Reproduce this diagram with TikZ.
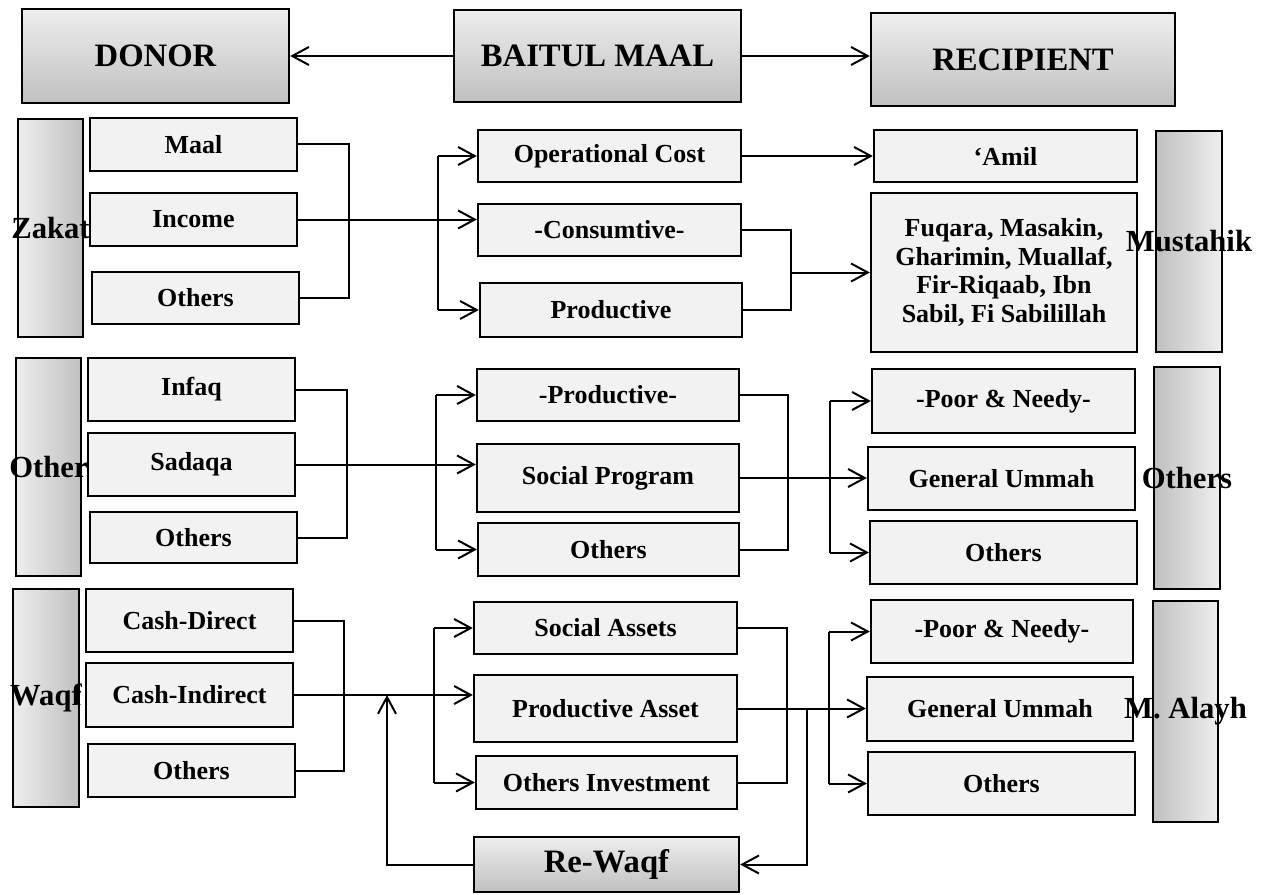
\documentclass[tikz,border=0pt]{standalone}
\usepackage{fontspec}
\setmainfont{Liberation Serif}
\usetikzlibrary{arrows.meta}
\definecolor{boxfill}{HTML}{F2F2F2}
\definecolor{gLight}{HTML}{EEEEEE}
\definecolor{gDark}{HTML}{C0C0C0}
\newcommand{\bx}[7]{%
  \pgfmathsetmacro\bxw{(#5-#3)*0.75}%
  \pgfmathsetmacro\bxh{(#6-#4)*0.75}%
  \node[#1, minimum width=\bxw pt, minimum height=\bxh pt] (#2) at ({(#3+#5)/2},{(#4+#6)/2}) {#7};}
\begin{document}
\begin{tikzpicture}[x=0.75pt, y=-0.75pt,
 box/.style={draw, line width=1.7pt, fill=boxfill, inner sep=0pt, align=center, font=\bfseries\fontsize{19.5}{21.5}\selectfont},
 head/.style={draw, line width=1.7pt, top color=gLight, bottom color=gDark, inner sep=0pt, font=\bfseries\fontsize{24.5}{27}\selectfont},
 barL/.style={draw, line width=1.7pt, left color=gLight, right color=gDark, inner sep=0pt},
 barR/.style={draw, line width=1.7pt, left color=gDark, right color=gLight, inner sep=0pt},
 lbl/.style={inner sep=0pt, font=\bfseries\fontsize{23}{26}\selectfont},
 ln/.style={line width=1.5pt},
 arr/.style={line width=1.5pt, -{Straight Barb[length=12.5pt, width=13.5pt, line width=1.5pt]}},
]
\useasboundingbox (0,0) rectangle (1267,895);

% headers
\bx{head}{donor}{22}{9}{289}{103}{DONOR}
\bx{head}{baitul}{454}{10}{741}{102}{BAITUL MAAL}
\bx{head}{recip}{871}{13}{1175}{106}{RECIPIENT}
\draw[arr] (baitul.west) -- (baitul.west -| donor.east);
\draw[arr] (baitul.east) -- (baitul.east -| recip.west);

% side bars
\bx{barL}{zakbar}{18}{119}{83}{337}{}
\bx{barL}{othbar}{16}{358}{81}{576}{}
\bx{barL}{waqfbar}{13}{589}{79}{807}{}
\bx{barR}{musbar}{1156}{131}{1222}{352}{}
\bx{barR}{othsbar}{1154}{367}{1220}{589}{}
\bx{barR}{alayhbar}{1153}{601}{1218}{822}{}

% row 1
\bx{box}{maal}{90}{118}{297}{171}{Maal}
\bx{box}{income}{90}{193}{297}{246}{Income}
\bx{box}{othA}{92}{272}{299}{324}{Others}
\bx{box}{opc}{478}{130}{741}{182}{Operational Cost}
\bx{box}{cons}{478}{204}{741}{256}{-Consumtive-}
\bx{box}{prod}{480}{283}{742}{337}{Productive}
\bx{box}{amil}{874}{130}{1137}{182}{`Amil}
\bx{box}{fuq}{871}{193}{1137}{352}{Fuqara, Masakin,\\Gharimin, Muallaf,\\Fir-Riqaab, Ibn\\Sabil, Fi Sabilillah}

\coordinate (zb) at (349,0);
\coordinate (zs) at (438,0);
\coordinate (zr) at (791,0);
\draw[ln] (maal.east) -- (maal.east -| zb) -- (othA.east -| zb) -- (othA.east);
\draw[arr] (income.east) -- (income.east -| cons.west);
\draw[ln] (zs |- opc.west) -- (zs |- prod.west);
\draw[arr] (zs |- opc.west) -- (opc.west);
\draw[arr] (zs |- prod.west) -- (prod.west);
\draw[arr] (opc.east) -- (opc.east -| amil.west);
\draw[ln] (cons.east) -- (cons.east -| zr) -- (prod.east -| zr) -- (prod.east);
\draw[arr] (zr |- fuq.west) -- (fuq.west);

% row 2
\bx{box}{infaq}{88}{358}{295}{421}{Infaq}
\bx{box}{sadaqa}{88}{433}{295}{496}{Sadaqa}
\bx{box}{othB}{90}{512}{297}{563}{Others}
\bx{box}{prodv}{477}{369}{739}{421}{-Productive-}
\bx{box}{socp}{477}{444}{739}{512}{Social Program}
\bx{box}{othC}{478}{523}{739}{576}{Others}
\bx{box}{poorA}{872}{369}{1135}{433}{-Poor \& Needy-}
\bx{box}{genA}{868}{447}{1135}{510}{General Ummah}
\bx{box}{othD}{870}{521}{1137}{584}{Others}

\coordinate (ob) at (347,0);
\coordinate (os) at (436,0);
\coordinate (orr) at (788,0);
\coordinate (ors) at (830,0);
\draw[ln] (infaq.east) -- (infaq.east -| ob) -- (othB.east -| ob) -- (othB.east);
\draw[arr] (sadaqa.east) -- (sadaqa.east -| socp.west);
\draw[ln] (os |- prodv.west) -- (os |- othC.west);
\draw[arr] (os |- prodv.west) -- (prodv.west);
\draw[arr] (os |- othC.west) -- (othC.west);
\draw[ln] (prodv.east) -- (prodv.east -| orr) -- (othC.east -| orr) -- (othC.east);
\draw[arr] (socp.east) -- (socp.east -| genA.west);
\draw[ln] (ors |- poorA.west) -- (ors |- othD.west);
\draw[arr] (ors |- poorA.west) -- (poorA.west);
\draw[arr] (ors |- othD.west) -- (othD.west);

% row 3
\bx{box}{cd}{86}{589}{293}{652}{Cash-Direct}
\bx{box}{ci}{86}{663}{293}{727}{Cash-Indirect}
\bx{box}{othE}{88}{744}{295}{797}{Others}
\bx{box}{sa}{474}{602}{737}{654}{Social Assets}
\bx{box}{pa}{474}{675}{737}{742}{Productive Asset}
\bx{box}{oi}{476}{756}{737}{809}{Others Investment}
\bx{box}{poorB}{871}{600}{1133}{663}{-Poor \& Needy-}
\bx{box}{genB}{867}{677}{1133}{741}{General Ummah}
\bx{box}{othF}{868}{752}{1135}{815}{Others}
\bx{head}{rewaqf}{474}{837}{739}{892}{Re-Waqf}

\coordinate (wb) at (344,0);
\coordinate (ws) at (434,0);
\coordinate (wr) at (787,0);
\coordinate (wrs) at (829,0);
\coordinate (wrb) at (807,0);
\coordinate (wret) at (387,0);
\draw[ln] (cd.east) -- (cd.east -| wb) -- (othE.east -| wb) -- (othE.east);
\draw[arr] (ci.east) -- (ci.east -| pa.west);
\draw[ln] (ws |- sa.west) -- (ws |- oi.west);
\draw[arr] (ws |- sa.west) -- (sa.west);
\draw[arr] (ws |- oi.west) -- (oi.west);
\draw[ln] (sa.east) -- (sa.east -| wr) -- (oi.east -| wr) -- (oi.east);
\draw[arr] (pa.east) -- (pa.east -| genB.west);
\draw[ln] (wrs |- poorB.west) -- (wrs |- othF.west);
\draw[arr] (wrs |- poorB.west) -- (poorB.west);
\draw[arr] (wrs |- othF.west) -- (othF.west);
\draw[arr] (wrb |- pa.east) -- (wrb |- rewaqf.east) -- (rewaqf.east);
\draw[arr] (rewaqf.west) -- (rewaqf.west -| wret) -- (wret |- ci.east);

% side labels on top
\node[lbl] (zaklbl) at (zakbar.center) {Zakat};
\node[lbl] (othlbl) at (othbar.center) {Other};
\node[lbl] (waqflbl) at (waqfbar.center) {Waqf};
\node[lbl] (muslbl) at (musbar.center) {Mustahik};
\node[lbl] (othslbl) at (othsbar.center) {Others};
\node[lbl] (alayhlbl) at (alayhbar.center) {M. Alayh};
\end{tikzpicture}
\end{document}
